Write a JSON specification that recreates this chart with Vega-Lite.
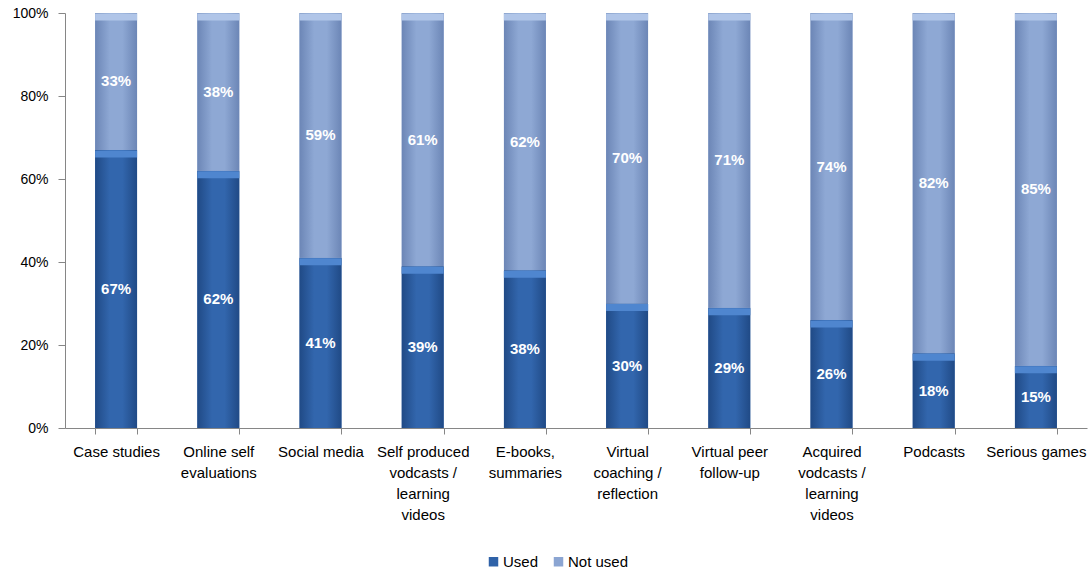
{
  "$schema": "https://vega.github.io/schema/vega-lite/v6.json",
  "width": 1022,
  "height": 415,
  "autosize": {"type": "none"},
  "padding": {"left": 65, "top": 13, "right": 5, "bottom": 145},
  "background": "white",
  "config": {
    "view": {"stroke": null},
    "font": "Liberation Sans"
  },
  "data": {
    "values": [
      {"cat": "Case studies", "series": "Used", "v": 67},
      {"cat": "Case studies", "series": "Not used", "v": 33},
      {"cat": "Online self|evaluations", "series": "Used", "v": 62},
      {"cat": "Online self|evaluations", "series": "Not used", "v": 38},
      {"cat": "Social media", "series": "Used", "v": 41},
      {"cat": "Social media", "series": "Not used", "v": 59},
      {"cat": "Self produced|vodcasts /|learning|videos", "series": "Used", "v": 39},
      {"cat": "Self produced|vodcasts /|learning|videos", "series": "Not used", "v": 61},
      {"cat": "E-books,|summaries", "series": "Used", "v": 38},
      {"cat": "E-books,|summaries", "series": "Not used", "v": 62},
      {"cat": "Virtual|coaching /|reflection", "series": "Used", "v": 30},
      {"cat": "Virtual|coaching /|reflection", "series": "Not used", "v": 70},
      {"cat": "Virtual peer|follow-up", "series": "Used", "v": 29},
      {"cat": "Virtual peer|follow-up", "series": "Not used", "v": 71},
      {"cat": "Acquired|vodcasts /|learning|videos", "series": "Used", "v": 26},
      {"cat": "Acquired|vodcasts /|learning|videos", "series": "Not used", "v": 74},
      {"cat": "Podcasts", "series": "Used", "v": 18},
      {"cat": "Podcasts", "series": "Not used", "v": 82},
      {"cat": "Serious games", "series": "Used", "v": 15},
      {"cat": "Serious games", "series": "Not used", "v": 85}
    ]
  },
  "transform": [
    {"stack": "v", "groupby": ["cat"], "as": ["y0", "y1"], "sort": [{"field": "series", "order": "descending"}]},
    {"calculate": "(datum.y0 + datum.y1) / 2", "as": "ymid"},
    {"calculate": "datum.v + '%'", "as": "lbl"}
  ],
  "encoding": {
    "x": {
      "field": "cat",
      "type": "nominal",
      "sort": null,
      "scale": {"paddingInner": 0.59, "paddingOuter": 0.295},
      "axis": {
        "title": null,
        "labelAngle": 0,
        "labelExpr": "split(datum.label, '|')",
        "labelFontSize": 15,
        "labelColor": "#000000",
        "labelLineHeight": 21,
        "labelPadding": 10,
        "labelBaseline": "top",
        "tickBand": "extent",
        "tickSize": 6,
        "tickColor": "#868686",
        "domainColor": "#868686",
        "labelLimit": 200
      }
    }
  },
  "layer": [
    {
      "mark": {"type": "bar"},
      "encoding": {
        "y": {
          "field": "y0",
          "type": "quantitative",
          "scale": {"domain": [0, 100], "nice": false},
          "axis": {
            "title": null,
            "values": [0, 20, 40, 60, 80, 100],
            "labelExpr": "datum.value + '%'",
            "labelFontSize": 14,
            "labelColor": "#000000",
            "labelPadding": 10,
            "grid": false,
            "tickSize": 7,
            "tickColor": "#868686",
            "domainColor": "#868686"
          }
        },
        "y2": {"field": "y1"},
        "color": {
          "field": "series",
          "type": "nominal",
          "scale": {"domain": ["Used", "Not used"], "range": ["#2F62A8", "#8BA5D2"]},
          "legend": {
            "title": null,
            "orient": "none",
            "direction": "horizontal",
            "legendX": 421,
            "legendY": 541,
            "symbolType": "square",
            "symbolSize": 90,
            "symbolStrokeWidth": 0,
            "labelFontSize": 15,
            "labelColor": "#000000",
            "labelOffset": 2,
            "columnPadding": 12
          }
        }
      }
    },
    {
      "transform": [{"filter": "datum.series == 'Used'"}],
      "mark": {
        "type": "bar",
        "fill": {
          "gradient": "linear", "x1": 0, "x2": 1, "y1": 0, "y2": 0,
          "stops": [
            {"offset": 0, "color": "#204a86"},
            {"offset": 0.35, "color": "#3266ad"},
            {"offset": 0.65, "color": "#3266ad"},
            {"offset": 1, "color": "#204a86"}
          ]
        }
      },
      "encoding": {
        "y": {"field": "y0", "type": "quantitative"},
        "y2": {"field": "y1"}
      }
    },
    {
      "transform": [{"filter": "datum.series == 'Not used'"}],
      "mark": {
        "type": "bar",
        "fill": {
          "gradient": "linear", "x1": 0, "x2": 1, "y1": 0, "y2": 0,
          "stops": [
            {"offset": 0, "color": "#6c86b6"},
            {"offset": 0.35, "color": "#8ea8d4"},
            {"offset": 0.65, "color": "#8ea8d4"},
            {"offset": 1, "color": "#6c86b6"}
          ]
        }
      },
      "encoding": {
        "y": {"field": "y0", "type": "quantitative"},
        "y2": {"field": "y1"}
      }
    },
    {
      "transform": [{"filter": "datum.series == 'Used'"}],
      "mark": {"type": "tick", "thickness": 7, "size": 42, "yOffset": 4, "color": "#4f86cf", "opacity": 1},
      "encoding": {
        "y": {"field": "y1", "type": "quantitative"}
      }
    },
    {
      "transform": [{"filter": "datum.series == 'Not used'"}],
      "mark": {"type": "tick", "thickness": 7, "size": 42, "yOffset": 4, "color": "#b0c5e8", "opacity": 1},
      "encoding": {
        "y": {"field": "y1", "type": "quantitative"}
      }
    },
    {
      "mark": {"type": "text", "color": "white", "fontSize": 15, "fontWeight": "bold", "baseline": "middle"},
      "encoding": {
        "y": {"field": "ymid", "type": "quantitative"},
        "text": {"field": "lbl"}
      }
    }
  ]
}
